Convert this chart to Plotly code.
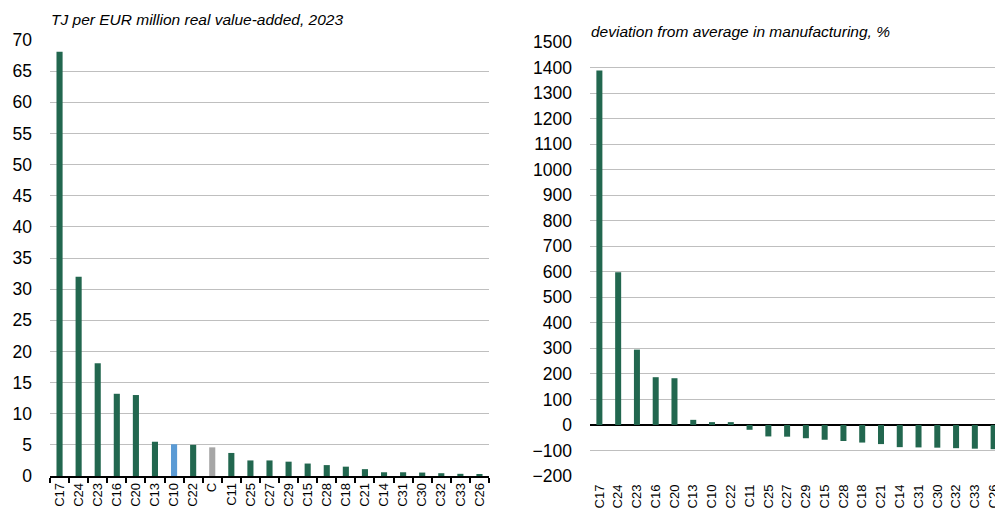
import plotly.graph_objects as go

# ---- data ----
left_categories = ["C17", "C24", "C23", "C16", "C20", "C13", "C10", "C22", "C", "C11", "C25", "C27",
                   "C29", "C15", "C28", "C18", "C21", "C14", "C31", "C30", "C32", "C33", "C26"]
left_values = [68.1, 32.0, 18.1, 13.2, 13.0, 5.5, 5.1, 5.0, 4.6, 3.7, 2.5, 2.5,
               2.3, 2.0, 1.75, 1.5, 1.1, 0.6, 0.6, 0.55, 0.45, 0.35, 0.25]
left_colors_by_cat = {"C10": "#5B9BD5", "C": "#A6A6A6"}

right_categories = ["C17", "C24", "C23", "C16", "C20", "C13", "C10", "C22", "C11", "C25", "C27",
                    "C29", "C15", "C28", "C18", "C21", "C14", "C31", "C30", "C32", "C33", "C26"]
right_values = [1388, 598, 295, 187, 183, 20, 11, 11, -19, -45, -46,
                -52, -58, -63, -69, -75, -87, -88, -89, -91, -93, -95]

left_title = "TJ per EUR million real value-added, 2023"
right_title = "deviation from average in manufacturing, %"

GREEN = "#22674F"
FONT = "Liberation Sans Narrow, Arial Narrow, Liberation Sans, Arial, sans-serif"
GRID = "#BFBFBF"

left_colors = [left_colors_by_cat.get(c, GREEN) for c in left_categories]

fig = go.Figure()
fig.add_trace(go.Bar(x=left_categories, y=left_values, marker=dict(color=left_colors, line=dict(width=0)),
                     xaxis="x", yaxis="y", showlegend=False))
fig.add_trace(go.Bar(x=right_categories, y=right_values, marker=dict(color=GREEN, line=dict(width=0)),
                     xaxis="x2", yaxis="y2", showlegend=False))

# page body has an 8px margin: figure coordinates = screen - 8
W, H = 995, 500
ydom = [1 - 468 / H, 1 - 32 / H]
ydom2 = [1 - 468 / H, 1 - 34 / H]
yr2 = [-200, 1500]
zero_pos = ydom2[0] + (ydom2[1] - ydom2[0]) * (0 - yr2[0]) / (yr2[1] - yr2[0])

tickfont_y = dict(family=FONT, size=17.5, color="black")
tickfont_x = dict(family=FONT, size=13, color="black")

fig.update_layout(
    width=W, height=H,
    margin=dict(l=0, r=0, t=0, b=0, autoexpand=False),
    paper_bgcolor="white", plot_bgcolor="white",
    bargap=0.68,
    xaxis=dict(domain=[42 / W, 481 / W], anchor="y", type="category", automargin=False,
               tickmode="array", tickvals=left_categories,
               showline=True, linecolor="black", linewidth=1.5,
               ticks="outside", tickson="boundaries", ticklen=5, tickcolor="black", tickwidth=1.5,
               tickangle=-90, tickfont=tickfont_x, showgrid=False, ticklabelstandoff=0),
    yaxis=dict(domain=ydom, anchor="x", range=[0, 70], dtick=5, tick0=0, automargin=False,
               showgrid=True, gridcolor=GRID, gridwidth=1, zeroline=False,
               showline=False, ticks="", tickfont=tickfont_y, ticklabelstandoff=17),
    xaxis2=dict(domain=[582 / W, 1.0], anchor="y2", type="category", automargin=False,
                tickmode="array", tickvals=right_categories,
                showline=False, ticks="", tickangle=-90, tickfont=tickfont_x, showgrid=False,
                ticklabelstandoff=5),
    yaxis2=dict(domain=ydom2, anchor="x2", range=yr2, dtick=100, tick0=0, automargin=False,
                showgrid=True, gridcolor=GRID, gridwidth=1,
                zeroline=True, zerolinecolor="black", zerolinewidth=1.5,
                showline=False, ticks="", tickfont=tickfont_y, ticklabelstandoff=17),
    xaxis3=dict(domain=[582 / W, 1.0], anchor="free", position=zero_pos, overlaying="x2",
                automargin=False,
                range=[-0.5, len(right_categories) - 0.5],
                tickvals=[i - 0.5 for i in range(len(right_categories) + 1)],
                showticklabels=False, ticks="outside", ticklen=5, tickcolor="black", tickwidth=1.5,
                showline=True, linecolor="black", linewidth=1.5, showgrid=False, zeroline=False),
    annotations=[
        dict(text=left_title, xref="paper", yref="paper", x=41 / W, y=1 - 11 / H,
             xanchor="left", yanchor="middle", showarrow=False,
             font=dict(family=FONT, size=15.5, color="black", style="italic")),
        dict(text=right_title, xref="paper", yref="paper", x=581 / W, y=1 - 23 / H,
             xanchor="left", yanchor="middle", showarrow=False,
             font=dict(family=FONT, size=15.5, color="black", style="italic")),
    ],
)

fig.write_html("out.html")
